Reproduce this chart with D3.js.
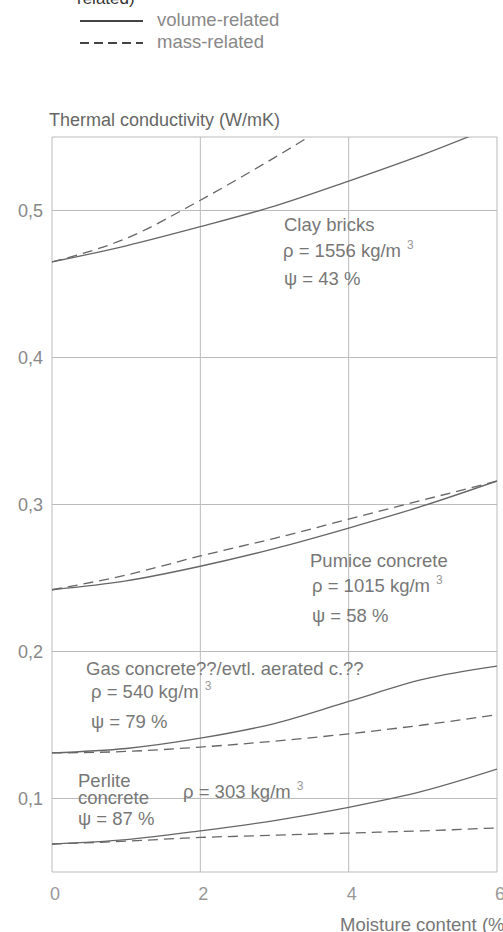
<!DOCTYPE html>
<html>
<head>
<meta charset="utf-8">
<script src="https://cdn.jsdelivr.net/npm/d3@7"></script>
<style>
  body { margin: 0; background: #fff; }
  svg { display: block; }
  text { font-family: "Liberation Sans", Arial, sans-serif; fill: #777; }
</style>
</head>
<body>
<div id="chart"></div>
<script>
// moisture content (%)
const moisture = [0, 1, 2, 3, 4, 5, 6];

// thermal conductivity (W/mK), volume-related (solid) and mass-related (dashed)
const clayVolume    = [0.465, 0.476, 0.489, 0.503, 0.520, 0.538, 0.558];
const clayMass      = [0.465, 0.481, 0.507, 0.536, 0.567, 0.600, 0.635];
const pumiceVolume  = [0.242, 0.248, 0.258, 0.270, 0.284, 0.299, 0.316];
const pumiceMass    = [0.242, 0.252, 0.265, 0.277, 0.290, 0.303, 0.316];
const gasVolume     = [0.131, 0.134, 0.141, 0.151, 0.166, 0.181, 0.190];
const gasMass       = [0.131, 0.132, 0.135, 0.139, 0.144, 0.150, 0.157];
const perliteVolume = [0.069, 0.072, 0.078, 0.085, 0.094, 0.105, 0.120];
const perliteMass   = [0.069, 0.071, 0.0735, 0.075, 0.0765, 0.078, 0.080];

const xTicks = [0, 2, 4, 6];
const yTicks = [0.1, 0.2, 0.3, 0.4, 0.5];

const width = 503, height = 932;

const svg = d3.select("#chart").append("svg")
    .attr("width", width)
    .attr("height", height);

const x = d3.scaleLinear().domain([0, 6]).range([52, 497]);
const y = d3.scaleLinear().domain([0.05, 0.55]).range([872, 137]);

// legend (cut off at the top of the page)
svg.append("text").attr("x", 77).attr("y", 4).style("font-size", "17px").style("fill", "#333").text("related)");
svg.append("line").attr("x1", 80).attr("x2", 143).attr("y1", 21).attr("y2", 21)
    .style("stroke", "#444").style("stroke-width", 1.8);
svg.append("line").attr("x1", 80).attr("x2", 143).attr("y1", 43).attr("y2", 43)
    .style("stroke", "#444").style("stroke-width", 1.8).style("stroke-dasharray", "9,5");
svg.append("text").attr("x", 157).attr("y", 26).style("font-size", "18.5px").style("fill", "#888").text("volume-related");
svg.append("text").attr("x", 157).attr("y", 48).style("font-size", "18.5px").style("fill", "#888").text("mass-related");

// axis title
svg.append("text").attr("x", 49).attr("y", 126).style("font-size", "18px").style("fill", "#666")
    .text("Thermal conductivity (W/mK)");

// grid
const grid = svg.append("g").style("stroke", "#bbb").style("stroke-width", 1);
grid.selectAll("line.v").data(xTicks).enter().append("line")
    .attr("x1", d => x(d)).attr("x2", d => x(d))
    .attr("y1", y.range()[1]).attr("y2", y.range()[0]);
grid.selectAll("line.h").data(yTicks.concat(y.domain())).enter().append("line")
    .attr("x1", x.range()[0]).attr("x2", x.range()[1])
    .attr("y1", d => y(d)).attr("y2", d => y(d));

// tick labels
const fmt = d => d3.format(".1f")(d).replace(".", ",");
svg.selectAll("text.ytick").data(yTicks).enter().append("text")
    .attr("x", 43).attr("y", d => y(d)).attr("dy", "0.35em")
    .attr("text-anchor", "end").style("font-size", "18px").style("fill", "#888")
    .text(fmt);
svg.selectAll("text.xtick").data(xTicks).enter().append("text")
    .attr("x", d => x(d) + 3).attr("y", 894).attr("dy", "0.35em")
    .attr("text-anchor", "middle").style("font-size", "18px").style("fill", "#999")
    .text(d => d);
svg.append("text").attr("x", 340).attr("y", 931).style("font-size", "18.5px").text("Moisture content (%)");

// curves
svg.append("clipPath").attr("id", "plot").append("rect")
    .attr("x", x.range()[0]).attr("y", y.range()[1])
    .attr("width", x.range()[1] - x.range()[0]).attr("height", y.range()[0] - y.range()[1]);

const line = d3.line()
    .x((d, i) => x(moisture[i]))
    .y(d => y(d))
    .curve(d3.curveMonotoneX);

const series = [
  { values: clayVolume, dashed: false }, { values: clayMass, dashed: true },
  { values: pumiceVolume, dashed: false }, { values: pumiceMass, dashed: true },
  { values: gasVolume, dashed: false }, { values: gasMass, dashed: true },
  { values: perliteVolume, dashed: false }, { values: perliteMass, dashed: true }
];

svg.append("g").attr("clip-path", "url(#plot)")
    .selectAll("path").data(series).enter().append("path")
    .attr("d", d => line(d.values))
    .style("fill", "none")
    .style("stroke", "#666")
    .style("stroke-width", 1.3)
    .style("stroke-dasharray", d => d.dashed ? "10,6" : null);

// annotations
function label(px, py, txt, sup, bg) {
  const t = svg.append("text").attr("x", px).attr("y", py).style("font-size", "18.5px");
  t.append("tspan").text(txt);
  if (sup) t.append("tspan").attr("dx", 6).attr("dy", -8).style("font-size", "12px").style("fill", "#999").text(sup);
  if (bg) {
    const b = t.node().getBBox();
    svg.insert("rect", "text").attr("x", b.x - 3).attr("y", b.y + 2).attr("width", b.width + 6).attr("height", b.height - 4)
      .style("fill", "#fff");
  }
}
label(284, 231, "Clay bricks");
label(283, 257, "ρ = 1556 kg/m", "3");
label(284, 285, "ψ = 43 %");
label(310, 567, "Pumice concrete");
label(312, 592, "ρ = 1015 kg/m", "3");
label(312, 622, "ψ = 58 %");
label(86, 675, "Gas concrete??/evtl. aerated c.??");
label(91, 698, "ρ = 540 kg/m", "3");
label(91, 728, "ψ = 79 %");
label(78, 787, "Perlite", null, true);
label(78, 804, "concrete", null, true);
label(78, 825, "ψ = 87 %", null, true);
label(183, 798, "ρ = 303 kg/m", "3", true);
</script>
</body>
</html>
